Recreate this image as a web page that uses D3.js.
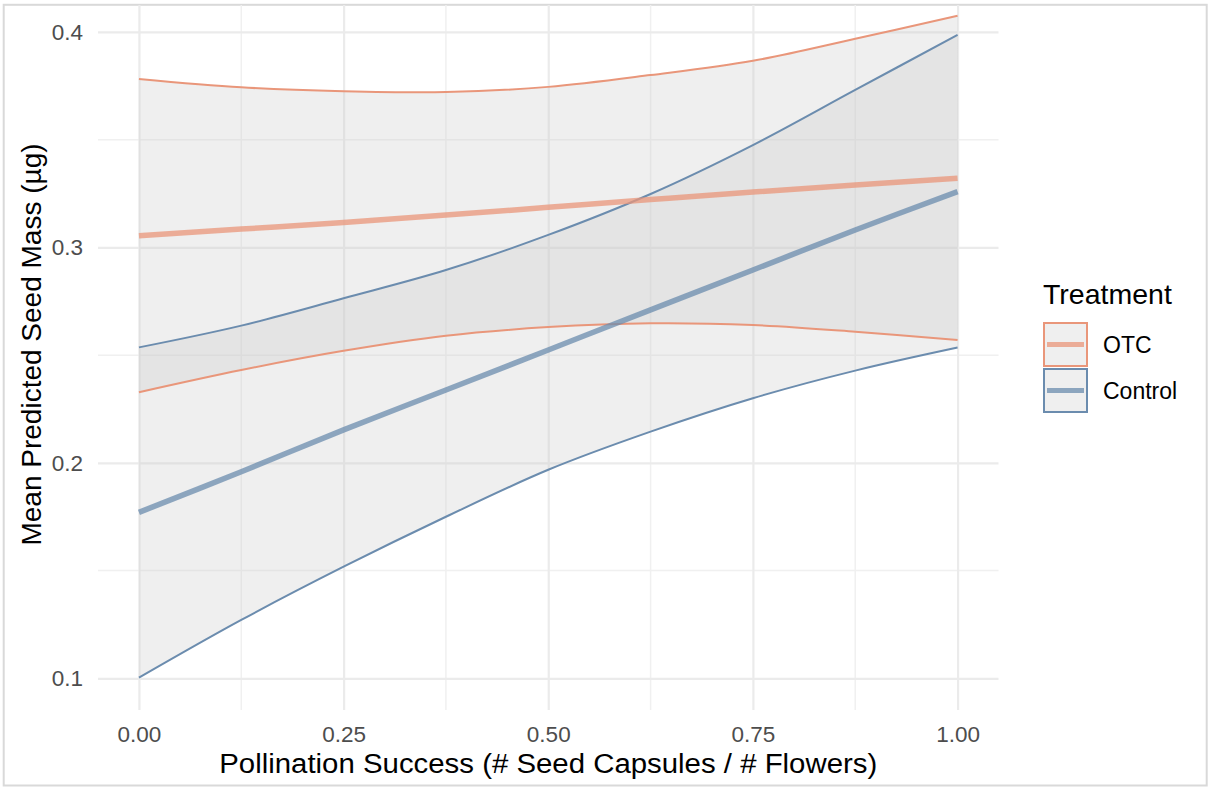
<!DOCTYPE html>
<html>
<head>
<meta charset="utf-8">
<script src="https://cdn.jsdelivr.net/npm/d3@7"></script>
<style>
  body { margin: 0; background: #fff; }
  svg text { font-family: "Liberation Sans", Arial, Helvetica, sans-serif; }
</style>
</head>
<body>
<svg id="chart"></svg>
<script>
// pollination success values where the curves were read
const xVals = [0, 0.125, 0.25, 0.375, 0.5, 0.625, 0.75, 0.875, 1]

// OTC
const otcMean  = [0.3054, 0.3085, 0.3116, 0.3150, 0.3186, 0.3222, 0.3257, 0.3290, 0.3321]
const otcUpper = [0.3782, 0.3743, 0.3725, 0.3721, 0.3745, 0.3800, 0.3866, 0.3968, 0.4075]
const otcLower = [0.2328, 0.2431, 0.2520, 0.2590, 0.2630, 0.2648, 0.2640, 0.2609, 0.2570]

// Control
const ctrlMean  = [0.1770, 0.1959, 0.2153, 0.2338, 0.2524, 0.2710, 0.2895, 0.3081, 0.3259]
const ctrlUpper = [0.2536, 0.2637, 0.2764, 0.2895, 0.3058, 0.3248, 0.3475, 0.3731, 0.3986]
const ctrlLower = [0.1003, 0.1271, 0.1518, 0.1750, 0.1968, 0.2145, 0.2300, 0.2428, 0.2535]

const xTicks = [0, 0.25, 0.5, 0.75, 1]
const xMinor = [0.125, 0.375, 0.625, 0.875]
const yTicks = [0.1, 0.2, 0.3, 0.4]
const yMinor = [0.15, 0.25, 0.35]

const groups = ['OTC', 'Control']
const colors = {OTC: '#e9967a', Control: '#6b8cae'}

// SVG bounds
const W = 1208, H = 787
const panel = {left: 98, right: 998.5, top: 5, bottom: 710}

const svg = d3.select('#chart')
  .attr('width', W)
  .attr('height', H)

const x = d3.scaleLinear()
  .domain([-0.05, 1.05])
  .range([panel.left, panel.right])

const y = d3.scaleLinear()
  .domain([0.0853, 0.4125])
  .range([panel.bottom, panel.top])

// outer frame
svg.append('rect')
  .attr('x', 3.7).attr('y', 4.8)
  .attr('width', 1203).attr('height', 780.7)
  .attr('fill', 'none')
  .attr('stroke', '#d9d9d9')
  .attr('stroke-width', 2)

// minor grid
const grid = svg.append('g')
grid.selectAll('.vminor').data(xMinor).enter().append('line')
  .attr('x1', d => x(d)).attr('x2', d => x(d))
  .attr('y1', panel.top).attr('y2', panel.bottom)
  .attr('stroke', '#f0f0f0').attr('stroke-width', 1.5)
grid.selectAll('.hminor').data(yMinor).enter().append('line')
  .attr('y1', d => y(d)).attr('y2', d => y(d))
  .attr('x1', panel.left).attr('x2', panel.right)
  .attr('stroke', '#f0f0f0').attr('stroke-width', 1.5)

// major grid + tick labels
const yAxis = svg.append('g')
  .attr('transform', 'translate(' + panel.left + ',0)')
  .call(d3.axisLeft(y).tickValues(yTicks).tickFormat(d3.format('.1f'))
    .tickSize(-(panel.right - panel.left)).tickPadding(15))
yAxis.select('.domain').remove()
yAxis.selectAll('line').attr('stroke', '#ebebeb').attr('stroke-width', 2.2)
yAxis.selectAll('text')
  .style('font-size', '22.5px')
  .attr('fill', '#4d4d4d')

const xAxis = svg.append('g')
  .attr('transform', 'translate(0,' + panel.bottom + ')')
  .call(d3.axisBottom(x).tickValues(xTicks).tickFormat(d3.format('.2f'))
    .tickSize(-(panel.bottom - panel.top)).tickPadding(16))
xAxis.select('.domain').remove()
xAxis.selectAll('line').attr('stroke', '#ebebeb').attr('stroke-width', 2.2)
xAxis.selectAll('text')
  .style('font-size', '22.5px')
  .attr('fill', '#4d4d4d')

const rows = g => {
  const m = g === 'OTC' ? otcMean : ctrlMean
  const u = g === 'OTC' ? otcUpper : ctrlUpper
  const l = g === 'OTC' ? otcLower : ctrlLower
  return xVals.map((v, i) => ({x: v, mean: m[i], hi: u[i], lo: l[i]}))
}

const area = d3.area()
  .x(d => x(d.x))
  .y0(d => y(d.lo))
  .y1(d => y(d.hi))
  .curve(d3.curveCatmullRom)

const line = key => d3.line()
  .x(d => x(d.x))
  .y(d => y(d[key]))
  .curve(d3.curveCatmullRom)

// ribbons
groups.forEach(g => {
  svg.append('path')
    .datum(rows(g))
    .attr('d', area)
    .attr('fill', 'rgb(203,203,203)')
    .attr('fill-opacity', 0.31)
})

// ribbon edges
groups.forEach(g => {
  ['hi', 'lo'].forEach(k => {
    svg.append('path')
      .datum(rows(g))
      .attr('d', line(k))
      .attr('fill', 'none')
      .attr('stroke', colors[g])
      .attr('stroke-width', 2)
  })
})

// mean lines
groups.forEach(g => {
  svg.append('path')
    .datum(rows(g))
    .attr('d', line('mean'))
    .attr('fill', 'none')
    .attr('stroke', colors[g])
    .attr('stroke-opacity', 0.75)
    .attr('stroke-width', 5.5)
})

// axis titles
svg.append('text')
  .attr('x', (panel.left + panel.right) / 2)
  .attr('y', 773)
  .attr('text-anchor', 'middle')
  .attr('textLength', 658)
  .attr('lengthAdjust', 'spacingAndGlyphs')
  .style('font-size', '27px')
  .attr('fill', '#000')
  .text('Pollination Success (# Seed Capsules / # Flowers)')

svg.append('text')
  .attr('transform', 'translate(41,' + ((panel.top + panel.bottom) / 2 - 13) + ') rotate(-90)')
  .attr('text-anchor', 'middle')
  .style('font-size', '28px')
  .attr('fill', '#000')
  .text('Mean Predicted Seed Mass (µg)')

// legend
const legend = svg.append('g').attr('transform', 'translate(1043,0)')
legend.append('text')
  .attr('x', 0).attr('y', 304)
  .style('font-size', '28.5px')
  .text('Treatment')

groups.forEach((g, i) => {
  const top = 323 + i * 46
  legend.append('rect')
    .attr('x', 1).attr('y', top)
    .attr('width', 43).attr('height', 43)
    .attr('fill', '#efefef')
    .attr('stroke', colors[g])
    .attr('stroke-width', 2)
  legend.append('line')
    .attr('x1', 4).attr('x2', 41)
    .attr('y1', top + 21.5).attr('y2', top + 21.5)
    .attr('stroke', colors[g])
    .attr('stroke-opacity', 0.75)
    .attr('stroke-width', 5)
  legend.append('text')
    .attr('x', 60).attr('y', top + 29.5)
    .style('font-size', '23px')
    .text(g)
})
</script>
</body>
</html>
